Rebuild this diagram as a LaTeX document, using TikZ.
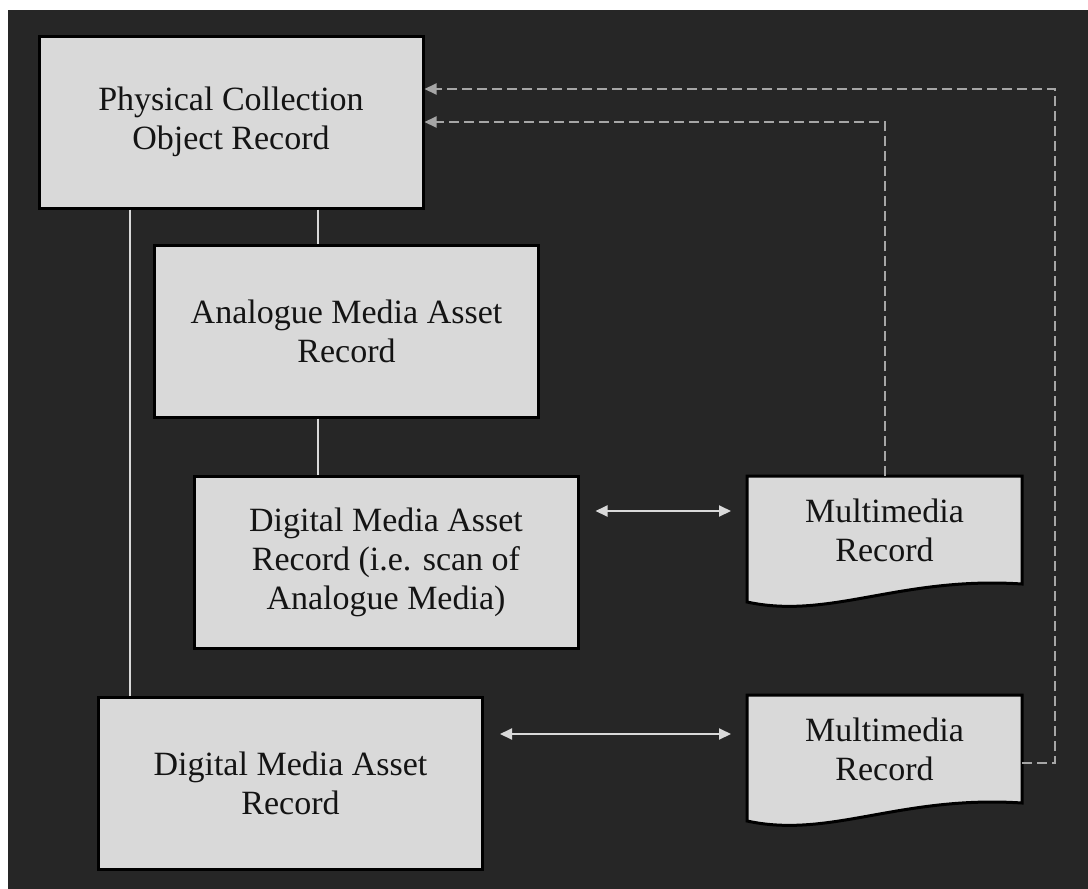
\documentclass[tikz,border=0pt]{standalone}
\usepackage{fontspec}
\setmainfont{Liberation Serif}
\usetikzlibrary{arrows.meta}
\definecolor{bgdark}{HTML}{262626}
\definecolor{boxfill}{HTML}{D9D9D9}
\definecolor{connc}{HTML}{D9D9D9}
\definecolor{dashc}{HTML}{A6A6A6}
\definecolor{txt}{HTML}{141414}
\begin{document}
\begin{tikzpicture}[x=1pt,y=-1pt,
  recbox/.style={draw=black, line width=3pt, fill=boxfill, minimum width=384pt, minimum height=172pt,
    align=center, font=\fontsize{34}{39}\selectfont, text=txt, inner sep=0pt},
  mmbox/.style={minimum width=275pt, minimum height=126pt, inner sep=0pt, outer sep=0pt},
  mmline/.style={draw=black, line width=3pt, fill=boxfill, line join=miter},
  mmtext/.style={align=center, font=\fontsize{34}{39}\selectfont, text=txt, inner sep=0pt},
  link/.style={draw=connc, line width=2pt},
  biarrow/.style={draw=connc, line width=2pt, {Triangle[length=12pt,width=11pt]}-{Triangle[length=12pt,width=11pt]}},
  dashlink/.style={draw=dashc, line width=2pt, dash pattern=on 10pt off 5pt, -{Triangle[length=12pt,width=11pt]}}]
\fill[white] (0,0) rectangle (1088,889);
\fill[bgdark] (8,10) rectangle (1088,889);
\useasboundingbox (0,0) rectangle (1088,889);

\node[recbox] (pco) at (231,122) {Physical Collection\\Object Record};
\node[recbox] (ama) at (346.5,331) {Analogue Media Asset\\Record};
\node[recbox] (dma1) at (386,562) {Digital Media Asset\\Record (i.e. scan of\\Analogue Media)};
\node[recbox] (dma2) at (290.5,783) {Digital Media Asset\\Record};

% Multimedia record 1
\node[mmbox] (mm1) at (884.5,539) {};
\draw[mmline] (mm1.south west) -- (mm1.north west) -- (mm1.north east) -- ([yshift=18pt]mm1.south east)
  .. controls ([xshift=-122pt,yshift=26pt]mm1.south east) and ([xshift=83pt,yshift=-18pt]mm1.south west) .. (mm1.south west) -- cycle;
\node[mmtext] (mm1t) at ([yshift=9pt]mm1.center) {Multimedia\\Record};

% Multimedia record 2
\node[mmbox] (mm2) at (884.5,758) {};
\draw[mmline] (mm2.south west) -- (mm2.north west) -- (mm2.north east) -- ([yshift=18pt]mm2.south east)
  .. controls ([xshift=-122pt,yshift=26pt]mm2.south east) and ([xshift=83pt,yshift=-18pt]mm2.south west) .. (mm2.south west) -- cycle;
\node[mmtext] (mm2t) at ([yshift=9pt]mm2.center) {Multimedia\\Record};

% solid connectors
\coordinate (c1) at (318,0);
\coordinate (c2) at (130,0);
\draw[link] (pco.south -| c1) -- (ama.north -| c1);
\draw[link] (ama.south -| c1) -- (dma1.north -| c1);
\draw[link] (pco.south -| c2) -- (dma2.north -| c2);

% double arrows
\coordinate (a1) at (0,511);
\coordinate (a2) at (0,734);
\draw[biarrow, shorten <=16pt, shorten >=16pt] (dma1.east |- a1) -- (mm1.west |- a1);
\draw[biarrow, shorten <=16pt, shorten >=16pt] (dma2.east |- a2) -- (mm2.west |- a2);

% dashed connectors
\draw[dashlink] (mm1.north) |- (pco.east);
\draw[dashlink] ([yshift=-5pt]mm2.east) -- ++(33,0) |- ([yshift=33pt]pco.east);
\end{tikzpicture}
\end{document}
